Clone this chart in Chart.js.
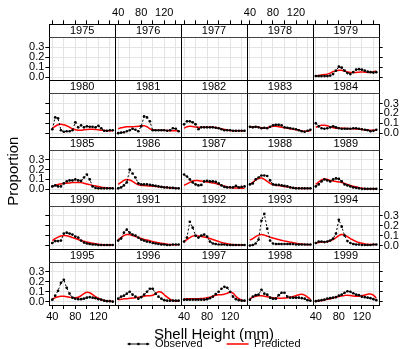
<!DOCTYPE html>
<html>
<head>
<meta charset="utf-8">
<script src="https://cdn.jsdelivr.net/npm/chart.js@4.4.0/dist/chart.umd.min.js"></script>
<style>
  html, body { margin: 0; padding: 0; background: #fff; }
</style>
</head>
<body>
<canvas id="chart" width="404" height="349"></canvas>
<script>
// shell height bins (mm)
const heights = [40, 45, 50, 55, 60, 65, 70, 75, 80, 85, 90, 95, 100, 105, 110, 115, 120, 125, 130, 135, 140, 145];
const years = [1975, 1976, 1977, 1978, 1979, 1980, 1981, 1982, 1983, 1984, 1985, 1986, 1987,
  1988, 1989, 1990, 1991, 1992, 1993, 1994, 1995, 1996, 1997, 1998, 1999];
const xTickValues = [40, 60, 80, 100, 120, 140];
const xTickLabels = [40, 80, 120];
const yTickValues = [0, 0.1, 0.2, 0.3];

// observed / predicted proportions by year (no survey 1975-1978)
const obs1979 = [0.01, 0.01, 0.01, 0.01, 0.01, 0.015, 0.03, 0.065, 0.105, 0.095, 0.065, 0.04, 0.03, 0.05, 0.075, 0.08, 0.075, 0.065, 0.055, 0.05, 0.045, 0.05];
const pred1979 = [0.01, 0.015, 0.02, 0.025, 0.03, 0.04, 0.055, 0.065, 0.07, 0.068, 0.06, 0.052, 0.047, 0.045, 0.047, 0.05, 0.052, 0.05, 0.047, 0.048, 0.055, 0.06];
const obs1980 = [0.04, 0.16, 0.15, 0.03, 0.015, 0.02, 0.02, 0.03, 0.11, 0.06, 0.08, 0.06, 0.07, 0.065, 0.065, 0.06, 0.075, 0.05, 0.025, 0.025, 0.03, 0.03];
const pred1980 = [0.05, 0.07, 0.085, 0.09, 0.085, 0.075, 0.06, 0.045, 0.035, 0.03, 0.03, 0.035, 0.038, 0.04, 0.04, 0.038, 0.035, 0.03, 0.028, 0.025, 0.025, 0.025];
const obs1981 = [0.0, 0.005, 0.01, 0.02, 0.03, 0.045, 0.035, 0.02, 0.07, 0.17, 0.16, 0.12, 0.03, 0.03, 0.03, 0.03, 0.03, 0.025, 0.03, 0.05, 0.045, 0.02];
const pred1981 = [0.045, 0.055, 0.06, 0.065, 0.065, 0.065, 0.068, 0.07, 0.075, 0.075, 0.065, 0.045, 0.035, 0.03, 0.03, 0.03, 0.03, 0.028, 0.025, 0.025, 0.025, 0.025];
const obs1982 = [0.09, 0.12, 0.12, 0.11, 0.09, 0.04, 0.06, 0.06, 0.06, 0.06, 0.06, 0.055, 0.05, 0.04, 0.03, 0.03, 0.03, 0.025, 0.025, 0.025, 0.025, 0.025];
const pred1982 = [0.05, 0.065, 0.07, 0.068, 0.063, 0.06, 0.06, 0.06, 0.06, 0.06, 0.06, 0.058, 0.052, 0.045, 0.038, 0.032, 0.028, 0.025, 0.025, 0.025, 0.025, 0.025];
const obs1983 = [0.065, 0.06, 0.065, 0.06, 0.05, 0.055, 0.05, 0.065, 0.08, 0.085, 0.085, 0.08, 0.06, 0.055, 0.05, 0.045, 0.04, 0.03, 0.02, 0.015, 0.025, 0.035];
const pred1983 = [0.06, 0.065, 0.065, 0.06, 0.055, 0.05, 0.055, 0.065, 0.07, 0.07, 0.065, 0.06, 0.055, 0.05, 0.045, 0.04, 0.035, 0.03, 0.025, 0.02, 0.02, 0.025];
const obs1984 = [0.1, 0.07, 0.05, 0.045, 0.05, 0.06, 0.07, 0.06, 0.05, 0.045, 0.045, 0.045, 0.045, 0.05, 0.05, 0.045, 0.04, 0.035, 0.03, 0.02, 0.025, 0.035];
const pred1984 = [0.06, 0.07, 0.08, 0.08, 0.075, 0.065, 0.055, 0.05, 0.05, 0.05, 0.05, 0.048, 0.045, 0.045, 0.043, 0.04, 0.038, 0.035, 0.032, 0.03, 0.03, 0.03];
const obs1985 = [0.03, 0.04, 0.03, 0.03, 0.06, 0.08, 0.09, 0.09, 0.1, 0.09, 0.085, 0.12, 0.15, 0.1, 0.03, 0.015, 0.01, 0.01, 0.01, 0.01, 0.01, 0.01];
const pred1985 = [0.03, 0.04, 0.05, 0.055, 0.06, 0.062, 0.065, 0.068, 0.07, 0.07, 0.068, 0.062, 0.055, 0.048, 0.04, 0.034, 0.028, 0.022, 0.018, 0.015, 0.012, 0.01];
const obs1986 = [0.01, 0.02, 0.04, 0.07, 0.2, 0.16, 0.12, 0.06, 0.05, 0.05, 0.05, 0.045, 0.04, 0.035, 0.03, 0.025, 0.02, 0.02, 0.015, 0.015, 0.01, 0.01];
const pred1986 = [0.05, 0.07, 0.09, 0.1, 0.095, 0.08, 0.06, 0.045, 0.04, 0.038, 0.036, 0.034, 0.032, 0.03, 0.027, 0.024, 0.021, 0.018, 0.015, 0.013, 0.011, 0.01];
const obs1987 = [0.15, 0.13, 0.1, 0.07, 0.05, 0.04, 0.045, 0.08, 0.085, 0.08, 0.08, 0.075, 0.06, 0.04, 0.025, 0.02, 0.02, 0.02, 0.035, 0.02, 0.025, 0.03];
const pred1987 = [0.04, 0.055, 0.07, 0.085, 0.09, 0.088, 0.085, 0.08, 0.075, 0.07, 0.065, 0.06, 0.05, 0.04, 0.032, 0.025, 0.02, 0.016, 0.014, 0.012, 0.012, 0.012];
const obs1988 = [0.05, 0.06, 0.1, 0.12, 0.14, 0.14, 0.135, 0.09, 0.05, 0.045, 0.045, 0.04, 0.035, 0.03, 0.02, 0.015, 0.01, 0.01, 0.01, 0.01, 0.01, 0.01];
const pred1988 = [0.05, 0.07, 0.095, 0.11, 0.115, 0.1, 0.08, 0.06, 0.048, 0.042, 0.038, 0.034, 0.03, 0.025, 0.02, 0.016, 0.012, 0.01, 0.009, 0.008, 0.008, 0.008];
const obs1989 = [0.03, 0.05, 0.08, 0.1, 0.09, 0.08, 0.1, 0.11, 0.105, 0.08, 0.05, 0.04, 0.03, 0.02, 0.015, 0.01, 0.005, 0.005, 0.005, 0.005, 0.005, 0.005];
const pred1989 = [0.05, 0.075, 0.095, 0.105, 0.1, 0.09, 0.085, 0.08, 0.075, 0.07, 0.06, 0.05, 0.04, 0.032, 0.024, 0.017, 0.012, 0.008, 0.006, 0.005, 0.005, 0.005];
const obs1990 = [0.025, 0.045, 0.045, 0.05, 0.12, 0.13, 0.12, 0.11, 0.09, 0.08, 0.05, 0.03, 0.02, 0.015, 0.01, 0.01, 0.005, 0.005, 0.005, 0.005, 0.005, 0.005];
const pred1990 = [0.05, 0.07, 0.085, 0.095, 0.1, 0.098, 0.09, 0.08, 0.07, 0.06, 0.05, 0.042, 0.035, 0.028, 0.022, 0.017, 0.013, 0.01, 0.008, 0.006, 0.005, 0.005];
const obs1991 = [0.05, 0.07, 0.13, 0.16, 0.13, 0.11, 0.1, 0.08, 0.06, 0.05, 0.04, 0.035, 0.025, 0.02, 0.015, 0.01, 0.01, 0.005, 0.005, 0.01, 0.01, 0.01];
const pred1991 = [0.06, 0.08, 0.1, 0.11, 0.11, 0.1, 0.09, 0.08, 0.07, 0.062, 0.055, 0.048, 0.04, 0.034, 0.028, 0.022, 0.017, 0.013, 0.01, 0.008, 0.007, 0.006];
const obs1992 = [0.04, 0.08, 0.24, 0.18, 0.1, 0.08, 0.1, 0.11, 0.09, 0.04, 0.02, 0.015, 0.01, 0.01, 0.01, 0.005, 0.005, 0.005, 0.005, 0.005, 0.005, 0.005];
const pred1992 = [0.04, 0.06, 0.08, 0.095, 0.1, 0.095, 0.09, 0.085, 0.08, 0.07, 0.06, 0.05, 0.04, 0.03, 0.023, 0.017, 0.013, 0.01, 0.008, 0.006, 0.005, 0.005];
const obs1993 = [0.0, 0.005, 0.02, 0.06, 0.25, 0.32, 0.17, 0.05, 0.02, 0.015, 0.015, 0.015, 0.015, 0.015, 0.015, 0.015, 0.01, 0.01, 0.01, 0.01, 0.01, 0.01];
const pred1993 = [0.055, 0.07, 0.09, 0.105, 0.11, 0.105, 0.095, 0.085, 0.075, 0.068, 0.06, 0.053, 0.045, 0.04, 0.034, 0.028, 0.023, 0.018, 0.014, 0.011, 0.009, 0.008];
const obs1994 = [0.025, 0.04, 0.04, 0.035, 0.04, 0.05, 0.07, 0.12, 0.26, 0.19, 0.1, 0.045, 0.025, 0.015, 0.01, 0.01, 0.005, 0.005, 0.005, 0.005, 0.01, 0.01];
const pred1994 = [0.025, 0.03, 0.035, 0.038, 0.04, 0.048, 0.06, 0.08, 0.1, 0.11, 0.105, 0.09, 0.07, 0.055, 0.04, 0.03, 0.022, 0.016, 0.012, 0.01, 0.01, 0.01];
const obs1995 = [0.02, 0.06, 0.11, 0.19, 0.22, 0.14, 0.08, 0.04, 0.03, 0.025, 0.025, 0.03, 0.04, 0.045, 0.04, 0.035, 0.025, 0.02, 0.01, 0.005, 0.005, 0.0];
const pred1995 = [0.025, 0.04, 0.05, 0.055, 0.055, 0.05, 0.045, 0.04, 0.04, 0.045, 0.06, 0.08, 0.095, 0.09, 0.07, 0.05, 0.035, 0.02, 0.012, 0.007, 0.004, 0.003];
const obs1996 = [0.03, 0.05, 0.06, 0.08, 0.1, 0.07, 0.05, 0.03, 0.045, 0.07, 0.1, 0.13, 0.13, 0.08, 0.05, 0.03, 0.015, 0.01, 0.01, 0.01, 0.01, 0.01];
const pred1996 = [0.02, 0.025, 0.028, 0.03, 0.033, 0.036, 0.04, 0.045, 0.05, 0.055, 0.06, 0.06, 0.065, 0.08, 0.1, 0.095, 0.07, 0.045, 0.025, 0.012, 0.006, 0.004];
const obs1997 = [0.02, 0.02, 0.02, 0.02, 0.02, 0.02, 0.02, 0.02, 0.025, 0.035, 0.05, 0.075, 0.1, 0.13, 0.15, 0.14, 0.1, 0.05, 0.025, 0.015, 0.01, 0.01];
const pred1997 = [0.025, 0.028, 0.03, 0.03, 0.03, 0.03, 0.032, 0.035, 0.04, 0.045, 0.055, 0.065, 0.07, 0.07, 0.075, 0.085, 0.095, 0.085, 0.055, 0.03, 0.015, 0.008];
const obs1998 = [0.02, 0.05, 0.065, 0.07, 0.12, 0.08, 0.07, 0.04, 0.03, 0.03, 0.065, 0.09, 0.09, 0.05, 0.04, 0.04, 0.04, 0.04, 0.035, 0.03, 0.015, 0.01];
const pred1998 = [0.03, 0.045, 0.055, 0.06, 0.06, 0.055, 0.05, 0.045, 0.04, 0.037, 0.035, 0.035, 0.037, 0.04, 0.045, 0.052, 0.06, 0.07, 0.075, 0.065, 0.045, 0.025];
const obs1999 = [0.005, 0.01, 0.015, 0.02, 0.03, 0.035, 0.04, 0.045, 0.06, 0.07, 0.09, 0.105, 0.1, 0.085, 0.07, 0.065, 0.05, 0.045, 0.04, 0.035, 0.025, 0.015];
const pred1999 = [0.005, 0.008, 0.012, 0.017, 0.023, 0.03, 0.037, 0.045, 0.052, 0.058, 0.063, 0.065, 0.062, 0.057, 0.054, 0.055, 0.06, 0.068, 0.075, 0.077, 0.065, 0.035];

const observed = {
  1979: obs1979, 1980: obs1980, 1981: obs1981, 1982: obs1982, 1983: obs1983, 1984: obs1984,
  1985: obs1985, 1986: obs1986, 1987: obs1987, 1988: obs1988, 1989: obs1989, 1990: obs1990,
  1991: obs1991, 1992: obs1992, 1993: obs1993, 1994: obs1994, 1995: obs1995, 1996: obs1996,
  1997: obs1997, 1998: obs1998, 1999: obs1999
};
const predicted = {
  1979: pred1979, 1980: pred1980, 1981: pred1981, 1982: pred1982, 1983: pred1983, 1984: pred1984,
  1985: pred1985, 1986: pred1986, 1987: pred1987, 1988: pred1988, 1989: pred1989, 1990: pred1990,
  1991: pred1991, 1992: pred1992, 1993: pred1993, 1994: pred1994, 1995: pred1995, 1996: pred1996,
  1997: pred1997, 1998: pred1998, 1999: pred1999
};

const NCOL = 5, NROW = 5;
const X_MIN = 34.8, X_MAX = 149.2;
const Y_MIN = -0.034, Y_MAX = 0.402;
const LEFT_W = 49.3, RIGHT_W = 25.3, TOP_H = 24.3, BOTTOM_H = 21;
const STRIP_H = 13, PANEL_H = 43.14;
const GRID = '#e4e4e4';
const FAMILY = "'Liberation Sans', Arial, Helvetica, sans-serif";
const tickFont = { family: FAMILY, size: 11 };
const titleFont = { family: FAMILY, size: 15 };

const toPoints = arr => heights.map((h, k) => ({ x: h, y: arr[k] }));

const datasets = [];
years.forEach((year, i) => {
  if (!observed[year]) return;
  const row = Math.floor(i / NCOL), col = i % NCOL;
  datasets.push({
    label: 'Observed',
    data: toPoints(observed[year]),
    xAxisID: 'x' + col, yAxisID: 'y' + row,
    borderColor: '#000', backgroundColor: '#000',
    borderWidth: 1, borderDash: [2, 2],
    pointRadius: 1.35, pointHoverRadius: 1.35, pointBorderWidth: 0,
    tension: 0
  });
  datasets.push({
    label: 'Predicted',
    data: toPoints(predicted[year]),
    xAxisID: 'x' + col, yAxisID: 'y' + row,
    borderColor: '#ff0000', backgroundColor: '#ff0000',
    borderWidth: 1.5, pointRadius: 0, pointHoverRadius: 0,
    tension: 0.4
  });
});

// one x scale per column at the bottom and at the top
function xScale(position, labelled, weight) {
  return {
    type: 'linear', axis: 'x', position: position,
    stack: 'cols', stackWeight: 1, weight: weight,
    min: X_MIN, max: X_MAX,
    afterBuildTicks: sc => { sc.ticks = xTickValues.map(v => ({ value: v })); },
    afterFit: sc => { sc.height = position === 'top' ? TOP_H : BOTTOM_H; },
    border: { display: false },
    grid: {
      display: true, drawOnChartArea: position === 'bottom', drawTicks: true,
      color: GRID, lineWidth: 1, tickColor: '#000', tickLength: 4
    },
    ticks: {
      font: tickFont, color: '#000', padding: 1, maxRotation: 0, autoSkip: false,
      callback: v => (labelled && xTickLabels.includes(v)) ? String(v) : ''
    }
  };
}

// strip rows and panel rows, stacked down the left and right sides
function stripScale(position, weight) {
  return {
    type: 'linear', axis: 'y', position: position,
    stack: 'rows', stackWeight: STRIP_H, weight: weight,
    afterFit: sc => { sc.width = position === 'left' ? LEFT_W : RIGHT_W; },
    border: { display: false },
    grid: { display: false },
    ticks: { display: false }
  };
}

function yScale(position, row, labelled, weight) {
  const s = {
    type: 'linear', axis: 'y', position: position,
    stack: 'rows', stackWeight: PANEL_H, weight: weight,
    min: Y_MIN, max: Y_MAX,
    afterBuildTicks: sc => { sc.ticks = yTickValues.map(v => ({ value: v })); },
    afterFit: sc => { sc.width = position === 'left' ? LEFT_W : RIGHT_W; },
    border: { display: false },
    grid: {
      display: true, drawOnChartArea: position === 'left', drawTicks: true,
      color: GRID, lineWidth: 1, tickColor: '#000', tickLength: 4
    },
    ticks: {
      font: tickFont, color: '#000', padding: 1, autoSkip: false,
      callback: v => labelled ? v.toFixed(1) : ''
    }
  };
  if (position === 'left' && row === 2) {
    s.title = { display: true, text: 'Proportion', font: titleFont, color: '#000',
      padding: { top: 4.5, bottom: 0 } };
  }
  return s;
}

const scales = {};
for (let c = 0; c < NCOL; c++) {
  scales['x' + c] = xScale('bottom', c % 2 === 0, c);
  scales['xt' + c] = xScale('top', c % 2 === 1, 10 - c);
}
for (let r = 0; r < NROW; r++) {
  scales['sl' + r] = stripScale('left', 100 - 2 * r);
  scales['y' + r] = yScale('left', r, r % 2 === 0, 99 - 2 * r);
  scales['sr' + r] = stripScale('right', 2 * r);
  scales['yr' + r] = yScale('right', r, r % 2 === 1, 2 * r + 1);
}

const crisp = v => Math.round(v) + 0.5;

// year strips over each panel, then the panel frames
const panelFrame = {
  id: 'panelFrame',
  beforeDatasetsDraw(chart) {
    const ctx = chart.ctx;
    ctx.save();
    ctx.font = '11px ' + FAMILY;
    ctx.textAlign = 'center';
    ctx.textBaseline = 'middle';
    years.forEach((year, i) => {
      const strip = chart.scales['sl' + Math.floor(i / NCOL)];
      const xs = chart.scales['x' + (i % NCOL)];
      ctx.fillStyle = '#fff';
      ctx.fillRect(xs.left, strip.top, xs.width, strip.height);
      ctx.fillStyle = '#000';
      ctx.fillText(String(year), (xs.left + xs.right) / 2, (strip.top + strip.bottom) / 2 + 0.5);
    });
    ctx.restore();
  },
  afterDatasetsDraw(chart) {
    const ctx = chart.ctx;
    ctx.save();
    ctx.lineWidth = 1;
    for (let r = 0; r < NROW; r++) {
      const strip = chart.scales['sl' + r];
      const panel = chart.scales['y' + r];
      for (let c = 0; c < NCOL; c++) {
        const xs = chart.scales['x' + c];
        const l = crisp(xs.left), rr = crisp(xs.right);
        const t = crisp(strip.top), m = crisp(strip.bottom), b = crisp(panel.bottom);
        ctx.strokeStyle = '#000';
        ctx.strokeRect(l, t, rr - l, b - t);
        ctx.strokeStyle = '#444';
        ctx.beginPath();
        ctx.moveTo(l, m);
        ctx.lineTo(rr, m);
        ctx.stroke();
      }
    }
    ctx.restore();
  },
  afterDraw(chart) {
    // point markers on the Observed key line
    const box = chart.legend && chart.legend.legendHitBoxes && chart.legend.legendHitBoxes[0];
    if (!box) return;
    const ctx = chart.ctx;
    const y = box.top + box.height / 2;
    ctx.save();
    ctx.fillStyle = '#000';
    [2, 11, 20].forEach(dx => {
      ctx.beginPath();
      ctx.arc(box.left + dx, y, 1.35, 0, Math.PI * 2);
      ctx.fill();
    });
    ctx.restore();
  }
};

new Chart(document.getElementById('chart'), {
  type: 'line',
  data: { datasets: datasets },
  options: {
    responsive: false,
    animation: false,
    events: [],
    layout: { padding: 0 },
    scales: scales,
    plugins: {
      tooltip: { enabled: false },
      legend: {
        position: 'bottom', fullSize: false, maxHeight: 23,
        title: {
          display: true, text: 'Shell Height (mm)', color: '#000',
          font: { family: FAMILY, size: 15, lineHeight: 1 },
          padding: { top: 1.3, bottom: -27.8 }
        },
        labels: {
          filter: item => item.datasetIndex < 2,
          boxWidth: 22, boxHeight: 0, padding: 24,
          font: tickFont, color: '#000'
        }
      }
    }
  },
  plugins: [panelFrame]
});
</script>
</body>
</html>
